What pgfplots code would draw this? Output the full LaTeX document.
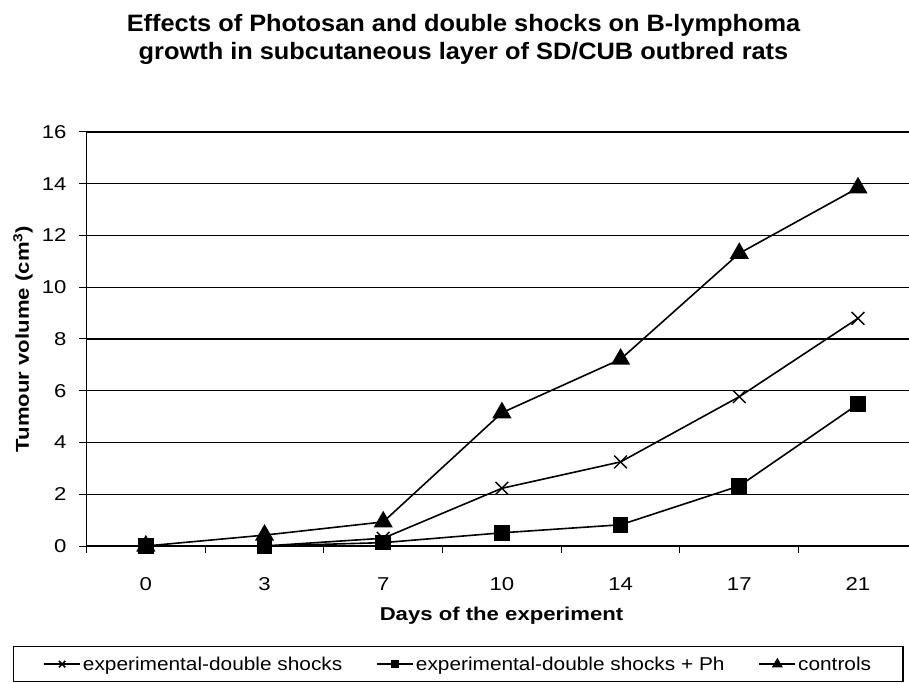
\documentclass[border=0pt]{standalone}
\usepackage{fontspec}
\setmainfont{Liberation Sans}
\newfontfamily\axfont[FakeStretch=1.19]{Liberation Sans}
\newfontfamily\legfont[FakeStretch=1.12]{Liberation Sans}
\newfontfamily\titfont[FakeStretch=1.07]{Liberation Sans}
\usepackage{pgfplots}
\pgfplotsset{compat=1.18}
\begin{document}
\begin{tikzpicture}[x=1pt,y=1pt]
\useasboundingbox (0,0) rectangle (909,682);
\node[font=\titfont\fontsize{23.7}{28}\selectfont\bfseries, anchor=base] at (463.5,650)
  {Effects of Photosan and double shocks on B-lymphoma};
\node[font=\titfont\fontsize{23.7}{28}\selectfont\bfseries, anchor=base] at (463.5,622)
  {growth in subcutaneous layer of SD/CUB outbred rats};
\begin{axis}[
  at={(86.5pt,136pt)}, anchor=south west,
  scale only axis, width=822.5pt, height=414pt,
  xmin=-0.5, xmax=6.43, ymin=0, ymax=16,
  clip=false,
  axis x line=bottom, axis y line=left,
  axis line style={-, black, line width=1.4pt},
  ytick={0,2,...,16},
  ymajorgrids, grid style={black, line width=1.4pt},
  xtick={-0.5,0.5,1.5,2.5,3.5,4.5,5.5}, xticklabels={,,,,,,,},
  extra x ticks={0,1,2,3,4,5,6},
  extra x tick labels={0,3,7,10,14,17,21},
  extra x tick style={tick style={draw=none}},
  tick align=outside, major tick length=7pt,
  tick style={black, line width=1pt},
  /pgf/number format/assume math mode=true,
  tick label style={font=\axfont\fontsize{18.6}{22}\selectfont},
  xticklabel style={anchor=north, yshift=-20.7pt},
  yticklabel style={anchor=east, xshift=-9.5pt},
  xlabel={\bfseries Days of the experiment},
  ylabel={\bfseries Tumour volume (cm\textsuperscript{3})},
  label style={font=\axfont\fontsize{18.6}{22}\selectfont},
  xlabel style={at={(axis description cs:0.5046,0)}, anchor=base, yshift=-74pt},
  ylabel style={at={(axis description cs:0,0.5)}, anchor=center, yshift=63.5pt},
  legend columns=3,
  legend style={at={(axis description cs:-0.0897,-0.2415)}, anchor=north west,
    draw=black, line width=1.3pt, inner xsep=30pt, inner ysep=8pt,
    font=\legfont\fontsize{18.6}{22}\selectfont,
    /tikz/every even column/.append style={column sep=32pt}},
  legend image code/.code={%
    \draw[mark repeat=2,mark phase=2,line width=1.6pt,mark options={scale=0.5}]
      plot coordinates {(0pt,0pt) (18pt,0pt) (36pt,0pt)};},
]
\addplot[black, line width=1.6pt, mark=x, mark size=9pt, mark options={line width=1.4pt}]
  coordinates {(0,0) (1,0) (2,0.3) (3,2.23) (4,3.25) (5,5.77) (6,8.8)};
\addlegendentry{experimental-double shocks}
\addplot[black, line width=1.6pt, mark=square*, mark size=7pt]
  coordinates {(0,0) (1,0) (2,0.13) (3,0.51) (4,0.82) (5,2.32) (6,5.48)};
\addlegendentry{experimental-double shocks + Ph}
\addplot[black, line width=1.6pt, mark=triangle*, mark size=9.5pt]
  coordinates {(0,0) (1,0.42) (2,0.93) (3,5.15) (4,7.22) (5,11.31) (6,13.84)};
\addlegendentry{controls}
\end{axis}
\end{tikzpicture}
\end{document}
